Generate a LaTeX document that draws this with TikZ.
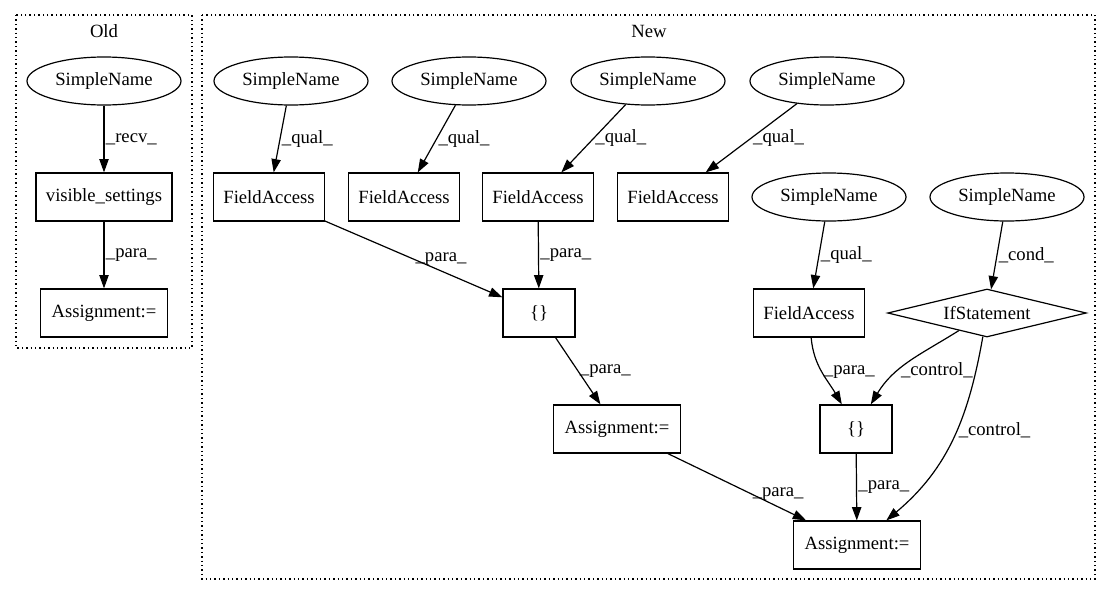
\documentclass[tikz,border=0pt]{standalone}
\usepackage{fontspec}
\setmainfont{Liberation Serif}
\usetikzlibrary{shapes.geometric,arrows.meta}

\begin{document}
\begin{tikzpicture}[x=0.75pt, y=0.75pt,
    every node/.style={font=\fontsize{14pt}{16pt}\selectfont},
    astnode/.style={draw, line width=0.9pt, ellipse, inner sep=0pt, minimum width=115.5pt, minimum height=36pt},
    stmt/.style={draw, line width=0.9pt, rectangle, inner sep=0pt, minimum height=36pt},
    ifbox/.style={draw, line width=0.9pt, diamond, aspect=4, inner sep=0pt, minimum width=149pt, minimum height=36pt},
    flow/.style={-{Triangle[length=10pt,width=7pt]}, line width=0.9pt},
    lbl/.style={right, inner sep=1pt},
    cluster/.style={line width=0.9pt, dash pattern=on 1pt off 2.3pt}]
    \useasboundingbox (0,0) rectangle (1112,-596);

    % Old
    \draw[cluster] (16,-15) rectangle (192,-348);
    \node (oldTitle) at (104,-31) {Old};
    \node[astnode] (oldName) at (104,-81) {SimpleName};
    \node[stmt, minimum width=102pt] (oldCall) at (104,-197) {visible\_settings};
    \node[stmt, minimum width=95pt] (oldAssign) at (104,-313) {Assignment:=};
    \draw[flow] (oldName) -- node[lbl] {\_recv\_} (oldCall);
    \draw[flow] (oldCall) -- node[lbl] {\_para\_} (oldAssign);

    % New
    \draw[cluster] (202,-15) rectangle (1095,-579);
    \node (newTitle) at (649,-31) {New};

    % Top row: names and field accesses
    \foreach \i/\nx/\fx in {1/291/269, 2/469/404, 3/648/538, 4/827/673} {
        \node[astnode] (name\i) at (\nx,-81) {SimpleName};
        \node[stmt, minimum width=83pt] (field\i) at (\fx,-197) {FieldAccess};
        \draw[flow] (name\i) -- node[lbl] {\_qual\_} (field\i);
    }

    \node[astnode] (name5) at (829,-197) {SimpleName};
    \node[astnode] (name6) at (1007,-197) {SimpleName};
    \node[stmt, minimum width=54pt] (braces1) at (539,-313) {\{\}};
    \node[stmt, minimum width=83pt] (field5) at (809,-313) {FieldAccess};
    \node[ifbox] (ifStmt) at (987,-313) {IfStatement};
    \node[stmt, minimum width=95pt] (assign1) at (617,-429) {Assignment:=};
    \node[stmt, minimum width=54pt] (braces2) at (856,-429) {\{\}};
    \node[stmt, minimum width=95pt] (assign2) at (857,-545) {Assignment:=};

    % Edges
    \draw[flow] (field1) -- node[lbl] {\_para\_} (braces1);
    \draw[flow] (field3) -- node[lbl] {\_para\_} (braces1);
    \draw[flow] (braces1) -- node[lbl] {\_para\_} (assign1);
    \draw[flow] (assign1) -- node[lbl, pos=0.6] {\_para\_} (assign2);
    \draw[flow] (name5) -- node[lbl] {\_qual\_} (field5);
    \draw[flow] (name6) -- node[lbl] {\_cond\_} (ifStmt);
    \draw[flow] (field5) to[out=-85, in=120] node[lbl] {\_para\_} (braces2);
    \draw[flow] (ifStmt) to[out=-148, in=59] node[lbl, pos=0.62] {\_control\_} (braces2);
    \draw[flow] (ifStmt) to[out=-100, in=40] node[lbl, pos=0.45] {\_control\_} (assign2);
    \draw[flow] (braces2) -- node[lbl] {\_para\_} (assign2);
\end{tikzpicture}
\end{document}
